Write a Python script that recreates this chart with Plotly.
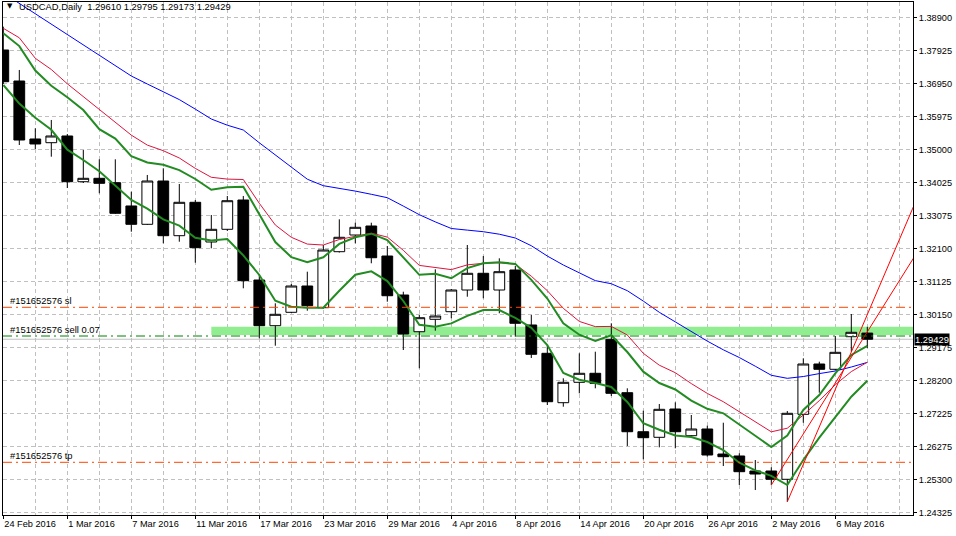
import numpy as np
import plotly.graph_objects as go

# ---------------- data ----------------
dates = ["2016-02-24", "2016-02-25", "2016-02-26", "2016-02-29", "2016-03-01", "2016-03-02",
         "2016-03-03", "2016-03-04", "2016-03-07", "2016-03-08", "2016-03-09", "2016-03-10",
         "2016-03-11", "2016-03-14", "2016-03-15", "2016-03-16", "2016-03-17", "2016-03-18",
         "2016-03-21", "2016-03-22", "2016-03-23", "2016-03-24", "2016-03-25", "2016-03-28",
         "2016-03-29", "2016-03-30", "2016-03-31", "2016-04-01", "2016-04-04", "2016-04-05",
         "2016-04-06", "2016-04-07", "2016-04-08", "2016-04-11", "2016-04-12", "2016-04-13",
         "2016-04-14", "2016-04-15", "2016-04-18", "2016-04-19", "2016-04-20", "2016-04-21",
         "2016-04-22", "2016-04-25", "2016-04-26", "2016-04-27", "2016-04-28", "2016-04-29",
         "2016-05-02", "2016-05-03", "2016-05-04", "2016-05-05", "2016-05-06", "2016-05-09",
         "2016-05-10"]

opens = [1.37938, 1.37026, 1.35320, 1.35211, 1.35408, 1.34063, 1.34163, 1.34034, 1.33349, 1.32810,
         1.34084, 1.32475, 1.33457, 1.32289, 1.32663, 1.33525, 1.31171, 1.29827, 1.30221, 1.30995,
         1.30357, 1.32004, 1.32495, 1.32760, 1.31877, 1.30730, 1.29650, 1.30015, 1.30239, 1.30877,
         1.31369, 1.30877, 1.31466, 1.29848, 1.29015, 1.27562, 1.28162, 1.28427, 1.29427, 1.27856,
         1.26708, 1.26544, 1.27376, 1.26591, 1.26788, 1.26052, 1.25994, 1.25552, 1.25552, 1.25308,
         1.27220, 1.28700, 1.28544, 1.29503, 1.29610]
highs = [1.38624, 1.37350, 1.35634, 1.35879, 1.35467, 1.34996, 1.34722, 1.34722, 1.33769, 1.34261,
         1.34458, 1.33996, 1.33525, 1.33084, 1.33643, 1.33643, 1.31339, 1.30486, 1.31054, 1.31416,
         1.32201, 1.32957, 1.32857, 1.32857, 1.32172, 1.30827, 1.30142, 1.31486, 1.30907, 1.32201,
         1.31877, 1.31810, 1.31583, 1.30142, 1.29259, 1.28279, 1.29015, 1.29062, 1.29898, 1.27985,
         1.27326, 1.27523, 1.27573, 1.27200, 1.26885, 1.26973, 1.26073, 1.25876, 1.25661, 1.27317,
         1.28868, 1.28768, 1.29524, 1.30171, 1.29795]
lows = [1.36938, 1.35143, 1.35025, 1.34799, 1.33878, 1.34025, 1.33722, 1.33113, 1.32592, 1.32790,
        1.32251, 1.32298, 1.31680, 1.32104, 1.32613, 1.30927, 1.29456, 1.29239, 1.30201, 1.30268,
        1.30333, 1.31980, 1.32251, 1.31663, 1.30533, 1.29112, 1.28574, 1.29680, 1.30045, 1.30680,
        1.30633, 1.30192, 1.29503, 1.28877, 1.27494, 1.27444, 1.27838, 1.27985, 1.27759, 1.26288,
        1.25896, 1.26249, 1.26220, 1.26582, 1.25973, 1.25699, 1.25140, 1.24993, 1.25140, 1.24649,
        1.26973, 1.27856, 1.28509, 1.29062, 1.29173]
closes = [1.37005, 1.35290, 1.35173, 1.35408, 1.34063, 1.34163, 1.34016, 1.33134, 1.32810, 1.34084,
          1.32475, 1.33457, 1.32122, 1.32663, 1.33504, 1.31151, 1.29827, 1.30162, 1.30995, 1.30415,
          1.32054, 1.32428, 1.32722, 1.31827, 1.30709, 1.29583, 1.30062, 1.30112, 1.30877, 1.31369,
          1.30877, 1.31416, 1.29898, 1.28986, 1.27591, 1.28162, 1.28427, 1.28132, 1.27838, 1.26708,
          1.26532, 1.27367, 1.26708, 1.26788, 1.26023, 1.25973, 1.25532, 1.25464, 1.25308, 1.27250,
          1.28700, 1.28544, 1.29044, 1.29633, 1.29429]

ma_blue = [1.39615, 1.39312, 1.39006, 1.38700, 1.38394, 1.38088, 1.37785, 1.37479, 1.37173, 1.36938,
           1.36711, 1.36479, 1.36199, 1.35908, 1.35726, 1.35584, 1.35208, 1.34855, 1.34502, 1.34137,
           1.33946, 1.33872, 1.33787, 1.33693, 1.33593, 1.33346, 1.33093, 1.32881, 1.32687, 1.32639,
           1.32592, 1.32519, 1.32407, 1.32180, 1.31877, 1.31613, 1.31377, 1.31153, 1.31062, 1.30857,
           1.30551, 1.30221, 1.29939, 1.29656, 1.29374, 1.29118, 1.28891, 1.28635, 1.28368, 1.28279,
           1.28332, 1.28418, 1.28494, 1.28612, 1.28747]
ma_crimson = [1.38576, 1.38297, 1.37694, 1.37364, 1.36944, 1.36564, 1.36191, 1.35814, 1.35434, 1.35140,
              1.34975, 1.34761, 1.34455, 1.34193, 1.34140, 1.34128, 1.33428, 1.32790, 1.32428, 1.32228,
              1.32201, 1.32363, 1.32457, 1.32551, 1.32434, 1.32045, 1.31601, 1.31536, 1.31477, 1.31616,
              1.31663, 1.31680, 1.31636, 1.31283, 1.30857, 1.30339, 1.29953, 1.29800, 1.29806, 1.29553,
              1.29015, 1.28665, 1.28444, 1.28124, 1.27835, 1.27591, 1.27288, 1.26994, 1.26705, 1.26811,
              1.27200, 1.27623, 1.28091, 1.28477, 1.28753]
ma_green_fast = [1.38429, 1.38053, 1.37332, 1.36888, 1.36549, 1.36173, 1.35608, 1.35331, 1.34817, 1.34628,
                 1.34563, 1.34405, 1.34143, 1.33825, 1.33899, 1.33916, 1.33104, 1.32289, 1.31845, 1.31692,
                 1.31839, 1.32234, 1.32428, 1.32534, 1.32348, 1.31830, 1.31324, 1.31357, 1.31224, 1.31522,
                 1.31663, 1.31692, 1.31645, 1.31174, 1.30627, 1.29898, 1.29562, 1.29377, 1.29547, 1.29053,
                 1.28474, 1.28141, 1.27950, 1.27626, 1.27382, 1.27250, 1.26914, 1.26579, 1.26258, 1.26597,
                 1.27347, 1.27788, 1.28427, 1.28965, 1.29230]
ma_green_slow = [1.36908, 1.36361, 1.35946, 1.35590, 1.35005, 1.34702, 1.34372, 1.33958, 1.33525, 1.33272,
                 1.32957, 1.32772, 1.32416, 1.32331, 1.32378, 1.31895, 1.31319, 1.30562, 1.30383, 1.30357,
                 1.30357, 1.30857, 1.31327, 1.31427, 1.31139, 1.30554, 1.29853, 1.29800, 1.29895, 1.30118,
                 1.30289, 1.30289, 1.30056, 1.29765, 1.29259, 1.28435, 1.28238, 1.28141, 1.28023, 1.27582,
                 1.26956, 1.26767, 1.26597, 1.26553, 1.26405, 1.26170, 1.25796, 1.25570, 1.25411, 1.25140,
                 1.25876, 1.26532, 1.27150, 1.27738, 1.28209]

# trend lines: anchor bar indices and prices (rays run off the right edge)
trend_a_idx = [49, 57]
trend_a_price = [1.24649, 1.33457]
trend_b_idx = [48, 57]
trend_b_price = [1.25140, 1.31900]

# order levels
order_id = "#151652576"
sl_price = 1.30368
entry_price = 1.29524
tp_price = 1.25808
bid_price = 1.29429
zone_start_idx = 13
zone_low = 1.29553
zone_high = 1.29798

title_text = "USDCAD,Daily&nbsp;&nbsp;1.29610 1.29795 1.29173 1.29429"

y_tick_labels = ["1.38900", "1.37925", "1.36950", "1.35975", "1.35000", "1.34025", "1.33075",
                 "1.32100", "1.31125", "1.30150", "1.29175", "1.28200", "1.27225", "1.26275",
                 "1.25300", "1.24325"]
x_tick_idx = [0, 4, 8, 12, 16, 20, 24, 28, 32, 36, 40, 44, 48, 52]
x_tick_labels = ["24 Feb 2016", "1 Mar 2016", "7 Mar 2016", "11 Mar 2016", "17 Mar 2016",
                 "23 Mar 2016", "29 Mar 2016", "4 Apr 2016", "8 Apr 2016", "14 Apr 2016",
                 "20 Apr 2016", "26 Apr 2016", "2 May 2016", "6 May 2016"]

# ---------------- figure ----------------
xi = list(range(len(dates)))
FONT = "Liberation Sans"
FS_TICK = 9.2
FS_TEXT = 9.4
GRID = "#C0C0C0"

fig = go.Figure()

fig.add_trace(go.Candlestick(
    x=xi, open=opens, high=highs, low=lows, close=closes,
    increasing=dict(fillcolor="white", line=dict(color="black", width=1)),
    decreasing=dict(fillcolor="black", line=dict(color="black", width=1)),
    whiskerwidth=0, hoverinfo="skip", showlegend=False))

for vals, col, w in [(ma_blue, "#0000FF", 1), (ma_crimson, "#DC143C", 1),
                     (ma_green_fast, "#228B22", 2), (ma_green_slow, "#228B22", 2)]:
    fig.add_trace(go.Scatter(x=xi, y=vals, mode="lines", line=dict(color=col, width=w),
                             hoverinfo="skip", showlegend=False))

for tx, ty in [(trend_a_idx, trend_a_price), (trend_b_idx, trend_b_price)]:
    fig.add_trace(go.Scatter(x=tx, y=ty, mode="lines", line=dict(color="#FF0000", width=1),
                             hoverinfo="skip", showlegend=False))

# zone rectangle (between grid and traces)
fig.add_shape(type="rect", xref="x", yref="y", x0=zone_start_idx, x1=60, y0=zone_low, y1=zone_high,
              fillcolor="#90EE90", line=dict(width=0), layer="between")

# bid line
fig.add_shape(type="line", xref="paper", yref="y", x0=0, x1=1, y0=bid_price, y1=bid_price,
              line=dict(color="#C0C0C0", width=1), layer="between")

# order lines
for price, col in [(sl_price, "#FF4500"), (entry_price, "#008000"), (tp_price, "#FF4500")]:
    fig.add_shape(type="line", xref="paper", yref="y", x0=0, x1=1, y0=price, y1=price,
                  line=dict(color=col, width=1, dash="9px,4px,2px,4px"), layer="above")

ann = []
for price, txt in [(sl_price, order_id + " sl"), (entry_price, order_id + " sell 0.07"),
                   (tp_price, order_id + " tp")]:
    ann.append(dict(xref="paper", yref="y", x=0.0066, y=price, text=txt, showarrow=False,
                    xanchor="left", yanchor="bottom", yshift=0, borderpad=0,
                    font=dict(family=FONT, size=FS_TEXT, color="black")))

ann.append(dict(xref="paper", yref="paper", x=0.0030, y=0.9915, text="▼", showarrow=False,
                xanchor="left", yanchor="middle", borderpad=0,
                font=dict(family="DejaVu Sans", size=7, color="black")))
ann.append(dict(xref="paper", yref="paper", x=0.0160, y=0.9915, text=title_text, showarrow=False,
                xanchor="left", yanchor="middle", borderpad=0,
                font=dict(family=FONT, size=FS_TEXT, color="black")))

ann.append(dict(xref="paper", yref="y", x=1, xshift=1, y=bid_price, text=f"{bid_price:.5f}",
                showarrow=False, xanchor="left", yanchor="middle", bgcolor="black", borderpad=0,
                font=dict(family=FONT, size=FS_TEXT, color="white")))

y_tick_vals = list(np.linspace(float(y_tick_labels[0]), float(y_tick_labels[-1]), len(y_tick_labels)))

fig.update_layout(
    width=956, height=536,
    margin=dict(l=3, r=43, t=2, b=21),
    plot_bgcolor="white", paper_bgcolor="white",
    showlegend=False, annotations=ann,
    boxgap=0.18, boxgroupgap=0.18,
    xaxis=dict(range=[-0.019, 56.856], tickmode="array", tickvals=x_tick_idx, ticktext=x_tick_labels,
               ticks="outside", ticklen=3, tickcolor="black", ticklabelposition="outside right",
               tickangle=0, automargin=False,
               tickfont=dict(family=FONT, size=FS_TICK, color="black"),
               showgrid=True, gridcolor=GRID, griddash="4px,3px", gridwidth=1,
               minor=dict(tickmode="linear", tick0=0, dtick=2, showgrid=True, gridcolor=GRID,
                          griddash="4px,3px", ticks=""),
               showline=True, linecolor="black", linewidth=1, mirror=True, zeroline=False,
               rangeslider=dict(visible=False), fixedrange=True),
    yaxis=dict(range=[1.24258, 1.39350], side="right", tickmode="array", tickvals=y_tick_vals,
               ticktext=y_tick_labels, ticks="outside", ticklen=3, tickcolor="black",
               automargin=False,
               tickfont=dict(family=FONT, size=FS_TICK, color="black"),
               showgrid=True, gridcolor=GRID, griddash="4px,3px", gridwidth=1,
               showline=True, linecolor="black", linewidth=1, mirror=True, zeroline=False,
               fixedrange=True),
)

fig.write_html("out.html", config={"displayModeBar": False, "staticPlot": True})
